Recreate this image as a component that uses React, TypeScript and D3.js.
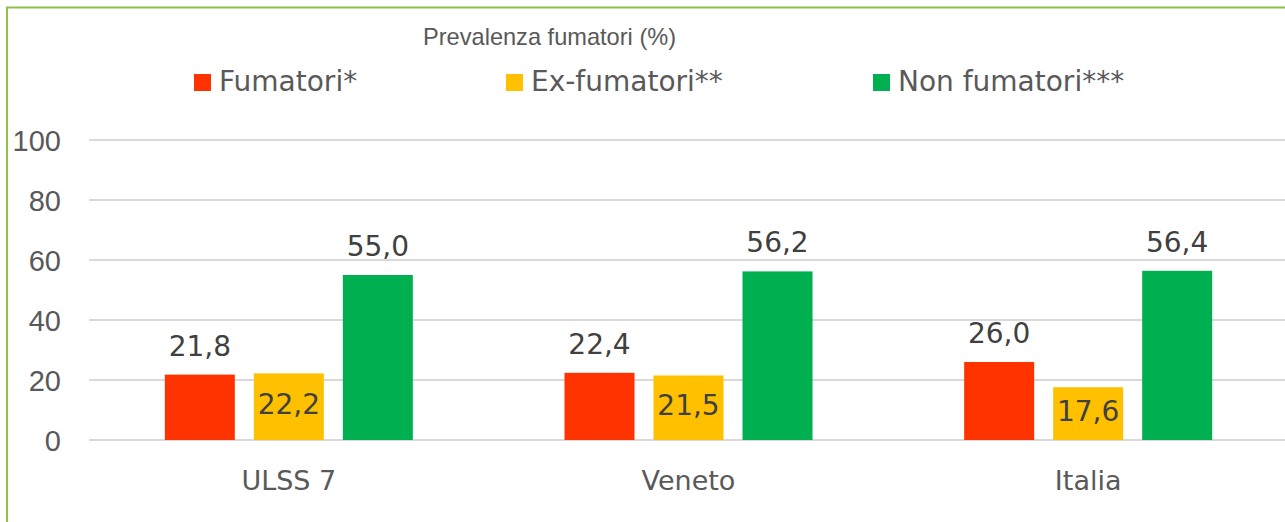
import React from "react";
import * as d3 from "d3";

const categories = ["ULSS 7", "Veneto", "Italia"];
const seriesNames = ["Fumatori*", "Ex-fumatori**", "Non fumatori***"];
const fumatori = [21.8, 22.4, 26.0];
const exFumatori = [22.2, 21.5, 17.6];
const nonFumatori = [55.0, 56.2, 56.4];
const yTicks = [0, 20, 40, 60, 80, 100];
const title = "Prevalenza fumatori (%)";

const colors = ["#FF3300", "#FFC000", "#00B050"];
const labelPlacement = ["outside", "center", "outside"];

export default function App() {
  const W = 1285;
  const H = 522;
  const values = [fumatori, exFumatori, nonFumatori];

  const x0 = d3.scaleBand<string>().domain(categories).range([89, 1288]).padding(0);
  const bw = x0.bandwidth();
  const step = 89;
  const pi = 19 / 89;
  const po = (bw / step - (3 - pi)) / 2;
  const x1 = d3
    .scaleBand<string>()
    .domain(seriesNames)
    .range([0, bw])
    .paddingInner(pi)
    .paddingOuter(po);
  const y = d3.scaleLinear().domain([0, 100]).range([440, 140]);

  const legendX = [194, 506, 873];
  const fmt = (v: number) => v.toFixed(1).replace(".", ",");

  return (
    <svg
      width={W}
      height={H}
      style={{ position: "absolute", left: 0, top: 0, background: "#fff" }}
    >
      <rect x={0} y={0} width={W} height={H} fill="#fff" />
      <rect
        x={7}
        y={7.5}
        width={W + 20}
        height={H + 20}
        fill="none"
        stroke="#92C04A"
        strokeWidth={2}
      />
      <text
        x={423}
        y={44.5}
        fontFamily="Liberation Sans, Arial, sans-serif"
        fontSize={23.6}
        fill="#595959"
      >
        {title}
      </text>
      {seriesNames.map((s, i) => (
        <g key={s}>
          <rect x={legendX[i]} y={74} width={17} height={17} fill={colors[i]} />
          <text
            x={legendX[i] + 25}
            y={91}
            fontFamily="DejaVu Sans, sans-serif"
            fontSize={28}
            fill="#595959"
          >
            {s}
          </text>
        </g>
      ))}
      {yTicks.map((t) => (
        <g key={t}>
          <line
            x1={89}
            x2={1290}
            y1={y(t)}
            y2={y(t)}
            stroke="#D9D9D9"
            strokeWidth={2}
          />
          <text
            x={61}
            y={y(t) + 10.5}
            textAnchor="end"
            fontFamily="Liberation Sans, Arial, sans-serif"
            fontSize={29}
            fill="#595959"
          >
            {t}
          </text>
        </g>
      ))}
      {categories.map((c, ci) => (
        <g key={c} transform={`translate(${x0(c)},0)`}>
          {seriesNames.map((s, si) => {
            const v = values[si][ci];
            const bx = x1(s)!;
            const top = y(v);
            const cx = bx + x1.bandwidth() / 2;
            const ly =
              labelPlacement[si] === "outside" ? top - 19 : (top + y(0)) / 2 + 7;
            return (
              <g key={s}>
                <rect
                  x={bx}
                  y={top}
                  width={x1.bandwidth()}
                  height={y(0) - top}
                  fill={colors[si]}
                />
                <text
                  x={cx}
                  y={ly}
                  textAnchor="middle"
                  fontFamily="DejaVu Sans, sans-serif"
                  fontSize={28}
                  fill="#404040"
                >
                  {fmt(v)}
                </text>
              </g>
            );
          })}
          <text
            x={bw / 2}
            y={490}
            textAnchor="middle"
            fontFamily="DejaVu Sans, sans-serif"
            fontSize={27}
            fill="#595959"
          >
            {c}
          </text>
        </g>
      ))}
    </svg>
  );
}
